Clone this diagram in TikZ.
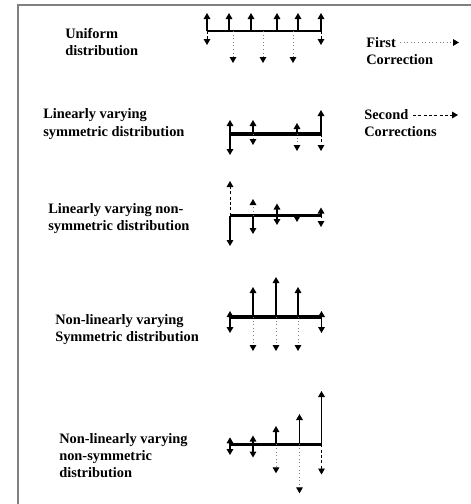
\documentclass[tikz,border=0pt]{standalone}
\usepackage{fontspec}
\setmainfont{Liberation Serif}
\usetikzlibrary{arrows.meta}

\begin{document}
\begin{tikzpicture}[x=0.75pt,y=-0.75pt,
  beam/.style={line width=2.3pt},
  thinbeam/.style={line width=1.4pt},
  load/.style={-{Triangle[length=4.5pt,width=5pt]},line width=0.8pt},
  firstcorr/.style={-{Triangle[length=4.5pt,width=5pt,black]},gray,dotted,line width=0.7pt},
  secondcorr/.style={-{Triangle[length=4.5pt,width=5pt]},dash pattern=on 2.2pt off 1.8pt,line width=0.7pt},
  caption/.style={anchor=west,align=left,inner sep=0pt,font=\bfseries\fontsize{10.8}{13}\selectfont}]
\useasboundingbox (0,0) rectangle (471,504);
\draw[gray,line width=1.1pt] (18,504) -- (18,5) -- (471,5);
% uniform distribution
\node[caption] (uniform) at (65,42) {Uniform\\distribution};
\draw[thinbeam] (207,31) -- (321,31);
\draw[load] (207,31) -- (207,13);
\draw[load] (229,31) -- (229,13);
\draw[load] (251,31) -- (251,13);
\draw[load] (277,31) -- (277,13);
\draw[load] (298,31) -- (298,13);
\draw[load] (321,31) -- (321,13);
\draw[secondcorr] (207,31) -- (207,45);
\draw[secondcorr] (321,31) -- (321,45);
\draw[firstcorr] (233,31) -- (233,63);
\draw[firstcorr] (263,31) -- (263,63);
\draw[firstcorr] (293,31) -- (293,63);
% linearly varying, symmetric
\node[caption] (linsym) at (43,124) {Linearly varying\\symmetric distribution};
\draw[beam] (230,134) -- (321,134);
\draw[load] (230,134) -- (230,120);
\draw[load] (230,134) -- (230,155);
\draw[load] (253,134) -- (253,120);
\draw[firstcorr] (253,134) -- (253,145);
\draw[load] (297,134) -- (297,123);
\draw[firstcorr] (297,134) -- (297,151);
\draw[load] (321,134) -- (321,110);
\draw[secondcorr] (321,134) -- (321,151);
% linearly varying, non-symmetric
\node[caption] (linnonsym) at (48,218.5) {Linearly varying non-\\symmetric distribution};
\draw[beam] (230,215.5) -- (321,215.5);
\draw[secondcorr] (230,215.5) -- (230,181);
\draw[load] (230,215.5) -- (230,246);
\draw[firstcorr] (253,215.5) -- (253,199);
\draw[load] (253,215.5) -- (253,234);
\draw[load] (277,215.5) -- (277,203.5);
\draw[load] (277,215.5) -- (277,225);
\draw[load] (297,215.5) -- (297,222);
\draw[load] (321,215.5) -- (321,207.5);
\draw[secondcorr] (321,215.5) -- (321,227);
% non-linearly varying, symmetric
\node[caption] (nonlinsym) at (55,329.5) {Non-linearly varying\\Symmetric distribution};
\draw[beam] (230,317) -- (321.5,317);
\draw[load] (230,317) -- (230,311);
\draw[load] (230,317) -- (230,333);
\draw[load] (253,317) -- (253,287);
\draw[firstcorr] (253,317) -- (253,351);
\draw[load] (276,317) -- (276,277);
\draw[firstcorr] (276,317) -- (276,351);
\draw[load] (298,317) -- (298,287);
\draw[firstcorr] (298,317) -- (298,351);
\draw[load] (321.5,317) -- (321.5,311);
\draw[load] (321.5,317) -- (321.5,333);
% non-linearly varying, non-symmetric
\node[caption] (nonlinnonsym) at (59,455.6) {Non-linearly varying\\non-symmetric\\distribution};
\draw[beam] (230,444.3) -- (321.5,444.3);
\draw[load] (230,444.3) -- (230,437.3);
\draw[load] (230,444.3) -- (230,455);
\draw[load] (253,444.3) -- (253,435.5);
\draw[load] (253,444.3) -- (253,457.5);
\draw[load] (276,444.3) -- (276,426);
\draw[firstcorr] (276,444.3) -- (276,473.3);
\draw[load] (299.5,444.3) -- (299.5,414);
\draw[firstcorr] (299.5,444.3) -- (299.5,493.3);
\draw[load] (321.5,444.3) -- (321.5,391);
\draw[secondcorr] (321.5,444.3) -- (321.5,474.5);
% legend
\node[caption] (first) at (366,51) {First\\Correction};
\coordinate (firstA) at (400,42.5);
\coordinate (firstB) at (459,42.5);
\draw[firstcorr] (firstA) -- (firstB);
\node[caption] (second) at (364,123.3) {Second\\Corrections};
\coordinate (secondA) at (413,115);
\coordinate (secondB) at (458,115);
\draw[secondcorr] (secondA) -- (secondB);
\end{tikzpicture}
\end{document}
